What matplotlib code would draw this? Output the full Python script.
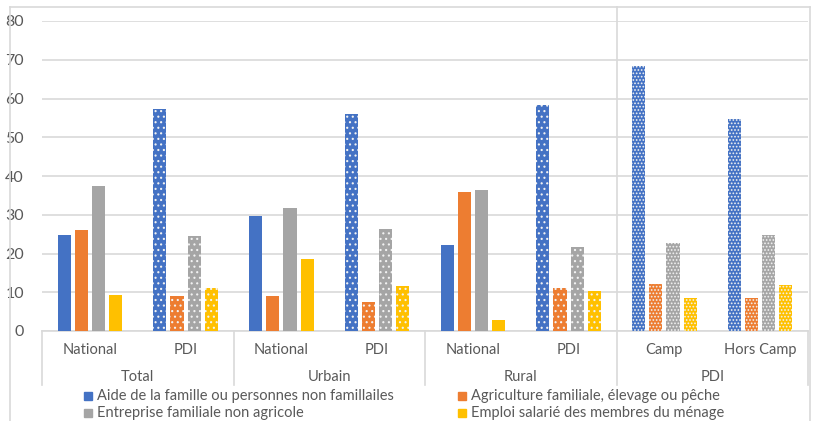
import matplotlib.pyplot as plt
import numpy as np

plt.rcParams['font.family'] = ['Lato', 'DejaVu Sans']
plt.rcParams['hatch.linewidth'] = 0.8

groups = ['Total', 'Urbain', 'Rural', 'PDI']
categories = ['National', 'PDI', 'National', 'PDI', 'National', 'PDI', 'Camp', 'Hors Camp']
series_names = ['Aide de la famille ou personnes non famillailes',
                'Agriculture familiale, élevage ou pêche',
                'Entreprise familiale non agricole',
                'Emploi salarié des membres du ménage']
aide = [24.8, 57.2, 29.7, 56.0, 22.3, 58.3, 68.3, 54.8]
agriculture = [26.0, 9.0, 9.0, 7.5, 36.0, 11.2, 12.2, 8.5]
entreprise = [37.5, 24.4, 31.7, 26.4, 36.5, 21.6, 22.6, 24.9]
emploi = [9.3, 11.0, 18.5, 11.6, 2.8, 10.3, 8.5, 11.8]

colors = ['#4472C4', '#ED7D31', '#A5A5A5', '#FFC000']
# hatch pattern per category: solid for national, dots for displaced groups
patterns = ['', '...', '', '...', '', '...', '.....', '.....']

W, H = 816, 421
fig = plt.figure(figsize=(W / 100, H / 100), dpi=100)
ax = fig.add_axes([42 / W, (H - 331) / H, (808 - 42) / W, (331 - 21) / H])

x = np.arange(len(categories))
pitch, width = 0.18, 0.136
for i, vals in enumerate([aide, agriculture, entreprise, emploi]):
    for j, v in enumerate(vals):
        if patterns[j]:
            ax.bar(x[j] + (i - 1.5) * pitch, v, width, color=colors[i],
                   edgecolor='#F2F2F2', linewidth=0, hatch=patterns[j], zorder=3)
        else:
            ax.bar(x[j] + (i - 1.5) * pitch, v, width, color=colors[i],
                   linewidth=0, zorder=3)

ax.set_xlim(-0.5, 7.5)
ax.set_ylim(0, 80)
ax.set_yticks(range(0, 81, 10))
ax.yaxis.grid(True, color='#D9D9D9', linewidth=1.2, zorder=0)
ax.tick_params(axis='y', length=0, labelsize=11.5, labelcolor='#595959', pad=13)
ax.set_xticks([])
for s in ['top', 'right', 'left']:
    ax.spines[s].set_visible(False)
ax.spines['bottom'].set_color('#D9D9D9')
ax.spines['bottom'].set_linewidth(1.2)

# two-level category axis
sep_bottom = -(385 - 331) / (331 - 21)
for j, c in enumerate(categories):
    ax.text(x[j], -(350 - 331) / 310, c, transform=ax.get_xaxis_transform(),
            ha='center', va='center', fontsize=10.5, color='#595959')
for g, name in enumerate(groups):
    ax.text(2 * g + 0.5, -(377 - 331) / 310, name, transform=ax.get_xaxis_transform(),
            ha='center', va='center', fontsize=10.5, color='#595959')
for b in [-0.5, 1.5, 3.5, 7.5]:
    ax.plot([b, b], [0, sep_bottom], transform=ax.get_xaxis_transform(),
            color='#D9D9D9', linewidth=1.2, clip_on=False)
ax.plot([5.5, 5.5], [(331 - 7) / 310, sep_bottom], transform=ax.get_xaxis_transform(),
        color='#D9D9D9', linewidth=1.2, clip_on=False)

# outer chart frame
fig.add_artist(plt.Line2D([10 / W, 10 / W], [0, (H - 7) / H], color='#D9D9D9', linewidth=1.2))
fig.add_artist(plt.Line2D([10 / W, 810 / W], [(H - 7) / H, (H - 7) / H], color='#D9D9D9', linewidth=1.2))
fig.add_artist(plt.Line2D([810 / W, 810 / W], [0, (H - 7) / H], color='#D9D9D9', linewidth=1.2))

# legend in two columns
legend_pos = [(88, 396), (462, 396), (88, 413), (462, 413)]
for i, (lx, ly) in enumerate(legend_pos):
    fig.add_artist(plt.Rectangle(((lx - 4) / W, (H - ly - 4) / H), 8 / W, 8 / H,
                                 color=colors[i], transform=fig.transFigure))
    fig.text((lx + 9) / W, (H - ly) / H, series_names[i], ha='left', va='center',
             fontsize=10.5, color='#595959')

fig.savefig('out.png', dpi=100)
